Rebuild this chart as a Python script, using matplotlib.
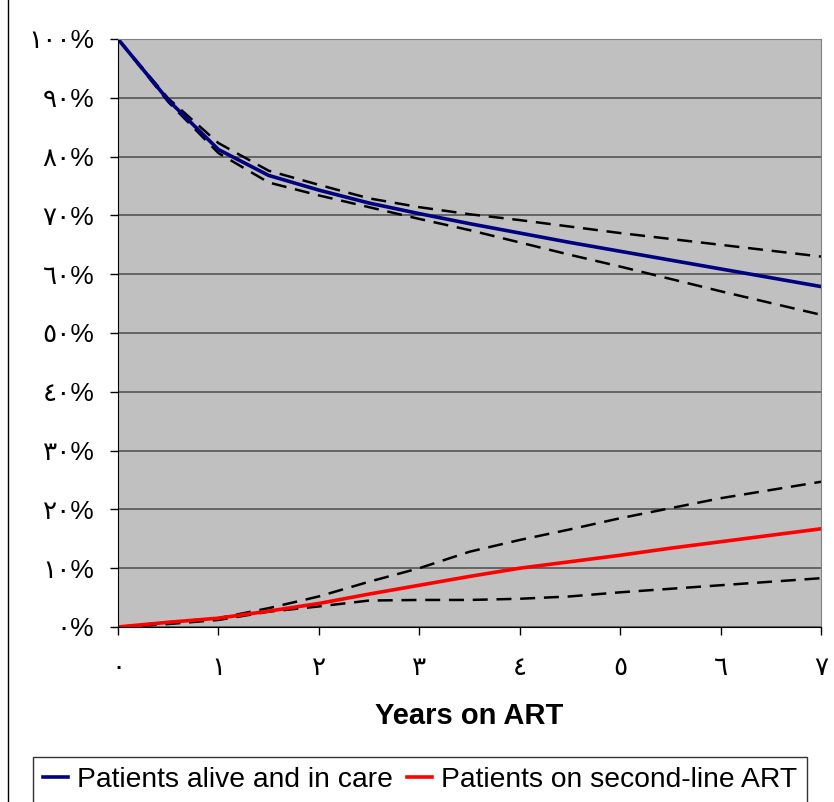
import numpy as np
import matplotlib.pyplot as plt
from matplotlib.lines import Line2D

# years on ART, half-year steps
years = [0, 0.5, 1, 1.5, 2, 2.5, 3, 3.5, 4, 4.5, 5, 5.5, 6, 6.5, 7]

# patients alive and in care (%), with upper / lower bounds
alive = [100, 89.6, 81.2, 76.8, 74.3, 72.1, 70.3, 68.6, 67.0, 65.4, 63.9, 62.4, 60.9, 59.4, 57.9]
alive_hi = [100, 89.9, 82.3, 77.6, 75.2, 72.9, 71.4, 70.2, 69.2, 68.1, 67.0, 66.0, 65.0, 64.0, 63.0]
alive_lo = [100, 89.3, 80.6, 75.6, 73.4, 71.4, 69.4, 67.5, 65.4, 63.3, 61.3, 59.2, 57.1, 55.1, 53.1]

# patients on second-line ART (%), with upper / lower bounds
second = [0, 0.8, 1.5, 2.7, 4.0, 5.6, 7.1, 8.6, 10.0, 11.1, 12.2, 13.4, 14.5, 15.6, 16.7]
second_hi = [0, 0.8, 1.5, 3.2, 5.2, 7.7, 10.0, 12.8, 14.8, 16.6, 18.5, 20.2, 21.9, 23.3, 24.7]
second_lo = [0, 0.5, 1.2, 2.6, 3.5, 4.5, 4.6, 4.6, 4.8, 5.2, 5.9, 6.5, 7.1, 7.7, 8.3]

xlabels = ['٠', '١', '٢', '٣', '٤', '٥', '٦', '٧']
ylabels = ['٠%', '١٠%', '٢٠%', '٣٠%', '٤٠%', '٥٠%', '٦٠%', '٧٠%', '٨٠%', '٩٠%', '١٠٠%']

plt.rcParams['font.family'] = ['Liberation Sans', 'DejaVu Sans']

fig = plt.figure(figsize=(8.34, 8.02), dpi=100)
ax = fig.add_axes([118/834, 1 - 627/802, (821-118)/834, (627-39)/802])
ax.set_facecolor('#C0C0C0')

dash = dict(color='black', lw=1.8, ls=(0, (6, 3.5)))
ax.plot(years, alive_hi, **dash)
ax.plot(years, alive_lo, **dash)
ax.plot(years, second_hi, **dash)
ax.plot(years, second_lo, **dash)
ax.plot(years, alive, color='#000080', lw=2.6, label='Patients alive and in care')
ax.plot(years, second, color='#FF0000', lw=2.6, label='Patients on second-line ART')

ax.set_xlim(0, 7)
ax.set_ylim(0, 100)
ax.set_xticks(range(8))
ax.set_xticklabels(xlabels)
ax.set_yticks(range(0, 101, 10))
ax.set_yticklabels(ylabels)
ax.yaxis.grid(True, color='#555555', lw=1.2)
ax.set_axisbelow(True)

ax.tick_params(axis='y', direction='out', length=6, width=1, pad=11, labelsize=19)
ax.tick_params(axis='x', direction='out', length=6, width=1, pad=15, labelsize=19)
for s in ['left', 'bottom']:
    ax.spines[s].set_color('black')
for s in ['top', 'right']:
    ax.spines[s].set_color('#808080')

ax.set_xlabel('Years on ART', fontsize=21, fontweight='bold', labelpad=16)

leg = fig.legend(loc='upper left', bbox_to_anchor=(33/834, 1 - 757/802), ncol=2,
                 fontsize=20.3, frameon=True, fancybox=False, edgecolor='black',
                 handlelength=0.9, handletextpad=0.3, columnspacing=0.5,
                 borderpad=0.35, borderaxespad=0)
leg.get_frame().set_linewidth(1)

fig.add_artist(Line2D([8/834, 8/834], [0, 1], color='black', lw=1, transform=fig.transFigure))

fig.savefig('out.png', dpi=100)
